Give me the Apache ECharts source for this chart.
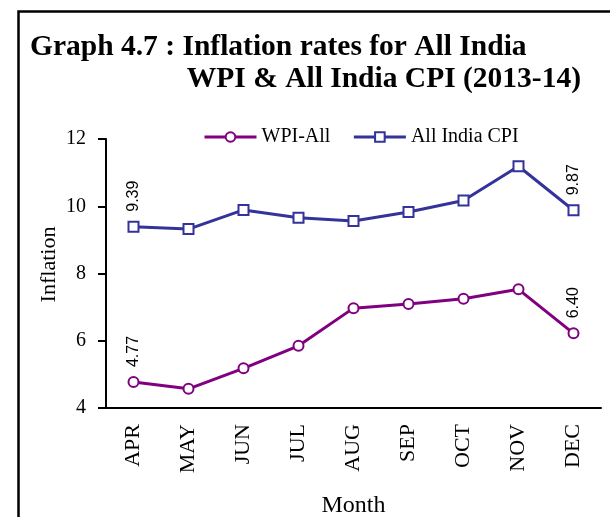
<!DOCTYPE html>
<html>
<head>
<meta charset="utf-8">
<script src="https://cdn.jsdelivr.net/npm/echarts@6/dist/echarts.min.js"></script>
<style>
  html, body { margin: 0; padding: 0; background: #fff; }
  #chart { width: 610px; height: 517px; }
</style>
</head>
<body>
<div id="chart"></div>
<script>
// months on the x axis
const months = ["APR", "MAY", "JUN", "JUL", "AUG", "SEP", "OCT", "NOV", "DEC"];
// WPI-All inflation
const wpiValues = [4.77, 4.57, 5.18, 5.85, 6.97, 7.09, 7.25, 7.53, 6.22];
// All India CPI inflation
const cpiValues = [9.39, 9.32, 9.89, 9.66, 9.56, 9.83, 10.17, 11.19, 9.88];
// value labels printed on the first and last points
const wpiLabels = ["4.77", "", "", "", "", "", "", "", "6.40"];
const cpiLabels = ["9.39", "", "", "", "", "", "", "", "9.87"];
// y axis ticks
const yTicks = [4, 6, 8, 10, 12];

const serif = "Liberation Serif";
const chart = echarts.init(document.getElementById("chart"));

// label only where the source has a text
function withLabels(values, labels) {
  return values.map((v, i) => ({
    value: v,
    label: { show: labels[i] !== "", formatter: labels[i] }
  }));
}

const pointLabel = {
  position: "top",
  distance: 9,
  rotate: 90,
  align: "left",
  verticalAlign: "middle",
  color: "#000",
  fontFamily: "Liberation Sans",
  fontSize: 16
};

const titleStyle = { fontFamily: serif, fontWeight: "bold", fontSize: 29.5, color: "#000" };

const option = {
  animation: false,
  backgroundColor: "#fff",
  title: [
    { text: "Graph 4.7 : Inflation rates for All India", left: 25, top: 27, textStyle: titleStyle },
    { text: "WPI & All India CPI (2013-14)", right: 24, top: 59, textStyle: titleStyle }
  ],
  graphic: [
    {
      type: "rect",
      shape: { x: 18.5, y: 11.5, width: 700, height: 700 },
      style: { fill: null, stroke: "#000", lineWidth: 2.5 },
      silent: true
    }
  ],
  legend: {
    left: 198,
    top: 122,
    itemWidth: 52,
    itemHeight: 12,
    itemGap: 22,
    lineStyle: { width: 3 },
    textStyle: { fontFamily: serif, fontSize: 20, color: "#000" },
    data: ["WPI-All", "All India CPI"]
  },
  grid: { left: 106, right: 9, top: 139, bottom: 109, outerBoundsMode: "none" },
  xAxis: [
    {
      type: "category",
      data: months,
      name: "Month",
      nameLocation: "middle",
      nameGap: 86,
      nameMoveOverlap: false,
      nameTextStyle: { fontFamily: serif, fontSize: 24, color: "#000" },
      axisLine: { lineStyle: { color: "#000", width: 2 } },
      axisTick: { length: 6, lineStyle: { color: "#000", width: 2 } },
      axisLabel: {
        rotate: 90,
        interval: 0,
        margin: 16,
        fontFamily: serif,
        fontSize: 22,
        color: "#000"
      }
    },
    {
      // second axis only for the ticks under each month
      type: "category",
      data: months,
      position: "bottom",
      axisLine: { show: false },
      axisTick: { alignWithLabel: true, length: 6, lineStyle: { color: "#000", width: 2 } },
      axisLabel: { show: false }
    }
  ],
  yAxis: {
    type: "value",
    min: yTicks[0],
    max: yTicks[yTicks.length - 1],
    interval: 2,
    name: "Inflation",
    nameLocation: "middle",
    nameGap: 46,
    nameMoveOverlap: false,
    nameTextStyle: { fontFamily: serif, fontSize: 22, color: "#000", padding: [0, 0, 0, 18] },
    axisLine: { show: true, lineStyle: { color: "#000", width: 2 } },
    axisTick: { show: true, length: 8, lineStyle: { color: "#000", width: 2 } },
    axisLabel: { margin: 20, fontFamily: serif, fontSize: 20, color: "#000" },
    splitLine: { show: false }
  },
  series: [
    {
      name: "WPI-All",
      type: "line",
      xAxisIndex: 0,
      data: withLabels(wpiValues, wpiLabels),
      symbol: "emptyCircle",
      symbolSize: 10,
      lineStyle: { color: "#800080", width: 3 },
      itemStyle: { color: "#800080", borderWidth: 2 },
      label: pointLabel
    },
    {
      name: "All India CPI",
      type: "line",
      xAxisIndex: 0,
      data: withLabels(cpiValues, cpiLabels),
      symbol: "emptyRect",
      symbolSize: 10,
      lineStyle: { color: "#333399", width: 3 },
      itemStyle: { color: "#333399", borderWidth: 2 },
      label: pointLabel
    }
  ]
};

chart.setOption(option);
</script>
</body>
</html>
